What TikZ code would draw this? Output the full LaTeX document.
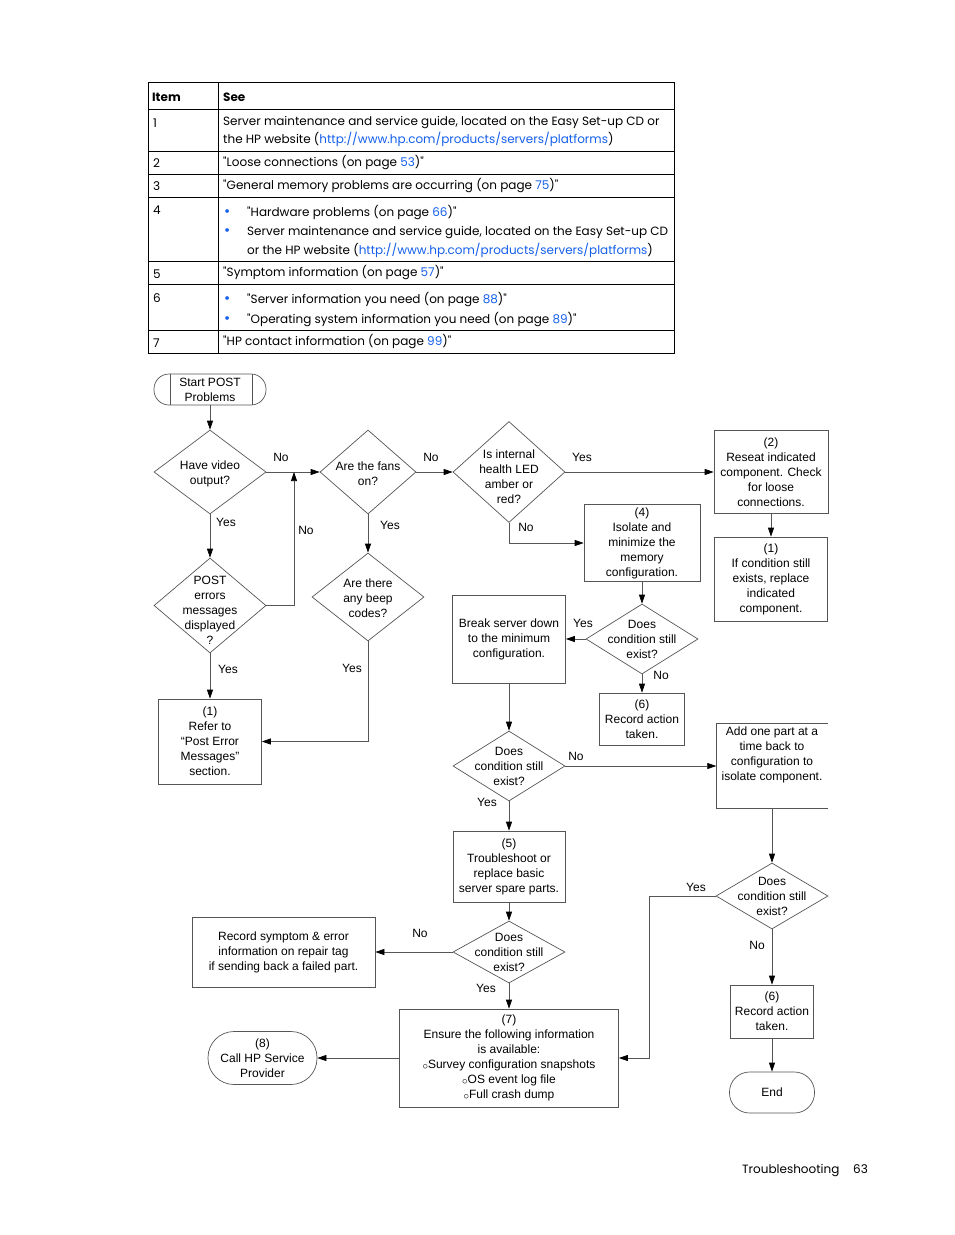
\documentclass[tikz,border=0pt]{standalone}
\usepackage{fontspec}
\setmainfont{Liberation Sans}
\newfontfamily\tabfont{Poppins}
\usetikzlibrary{arrows.meta,shapes.geometric}
\definecolor{hplink}{RGB}{20,95,235}
\definecolor{hpline}{RGB}{85,85,85}
\newcommand{\sbul}{\raisebox{-1pt}{\fontsize{11}{11}\selectfont$\circ$}}

\begin{document}
\begin{tikzpicture}[x=1pt,y=-1pt,>={Triangle[length=9pt,width=6pt,color=black]},
  fc/.style={font=\fontsize{12}{15}\selectfont,align=center,inner sep=0pt},
  box/.style={fc,draw=hpline,line width=.7pt,rectangle},
  term/.style={box,rounded corners=#1},
  dec/.style={draw=hpline,line width=.7pt,diamond,inner sep=0pt},
  conn/.style={->,draw=hpline,line width=.7pt},
  tb/.style={font=\tabfont\fontsize{12}{18}\selectfont,anchor=base west,inner sep=0pt},
  dot/.style={tb,text=hplink,font=\tabfont\fontsize{15}{18}\selectfont}]
   \useasboundingbox (0,0) rectangle (954,1235);
   \draw[line width=1pt] (148,82) rectangle (674,353);
   \draw[line width=1pt] (218,82) -- (218,353);
   \draw[line width=.8pt] (148,109) -- (674,109);
   \draw[line width=.8pt] (148,151) -- (674,151);
   \draw[line width=.8pt] (148,174) -- (674,174);
   \draw[line width=.8pt] (148,197) -- (674,197);
   \draw[line width=.8pt] (148,261) -- (674,261);
   \draw[line width=.8pt] (148,284) -- (674,284);
   \draw[line width=.8pt] (148,330) -- (674,330);
   \node[tb] (hi) at (152,101) {\bfseries Item};
   \node[tb] (hs) at (223,101) {\bfseries See};
   \node[tb] (i1) at (153,127) {1};
   \node[tb] (i2) at (153,167) {2};
   \node[tb] (i3) at (153,190) {3};
   \node[tb] (i4) at (153,214) {4};
   \node[tb] (i5) at (153,278) {5};
   \node[tb] (i6) at (153,302) {6};
   \node[tb] (i7) at (153,347) {7};
   \node[tb] (r1a) at (223,125) {Server maintenance and service guide, located on the Easy Set-up CD or};
   \node[tb] (r1b) at (223,143) {the HP website (\textcolor{hplink}{http://www.hp.com/products/servers/platforms})};
   \node[tb] (r2) at (223,166) {"Loose connections (on page \textcolor{hplink}{53})"};
   \node[tb] (r3) at (223,189) {"General memory problems are occurring (on page \textcolor{hplink}{75})"};
   \node[dot] (u4a) at (224,216) {•};
   \node[dot] (u4b) at (224,235) {•};
   \node[tb] (r4a) at (247,216) {"Hardware problems (on page \textcolor{hplink}{66})"};
   \node[tb] (r4b) at (247,235) {Server maintenance and service guide, located on the Easy Set-up CD};
   \node[tb] (r4c) at (247,254) {or the HP website (\textcolor{hplink}{http://www.hp.com/products/servers/platforms})};
   \node[tb] (r5) at (223,276) {"Symptom information (on page \textcolor{hplink}{57})"};
   \node[dot] (u6a) at (224,303) {•};
   \node[dot] (u6b) at (224,323) {•};
   \node[tb] (r6a) at (247,303) {"Server information you need (on page \textcolor{hplink}{88})"};
   \node[tb] (r6b) at (247,323) {"Operating system information you need (on page \textcolor{hplink}{89})"};
   \node[tb] (r7) at (223,345) {"HP contact information (on page \textcolor{hplink}{99})"};

   \node[term=15pt,minimum width=112pt,minimum height=31pt] (s) at (210,389.5) {Start POST\\Problems};
   \draw[hpline,line width=.7pt] (s.center) ++(-40,-15.5) -- ++(0,31);
   \draw[hpline,line width=.7pt] (s.center) ++(42,-15.5) -- ++(0,31);
   \node[dec,minimum width=112pt,minimum height=84pt,label={[fc,name=d1t,yshift=-2pt]center:{Have video\\output?}}] (d1) at (210,472) {};
   \node[dec,minimum width=112pt,minimum height=95pt,label={[fc,name=d2t,yshift=-5pt]center:{POST\\errors\\messages\\displayed\\?}}] (d2) at (210,605.5) {};
   \node[dec,minimum width=96pt,minimum height=84pt,label={[fc,name=d3t,yshift=-2pt]center:{Are the fans\\on?}}] (d3) at (368,472) {};
   \node[dec,minimum width=112pt,minimum height=88pt,label={[fc,name=d4t,yshift=-1pt]center:{Are there\\any beep\\codes?}}] (d4) at (368,597) {};
   \node[dec,minimum width=112pt,minimum height=101pt,label={[fc,name=d5t,yshift=-5pt]center:{Is internal\\health LED\\amber or\\red?}}] (d5) at (509,472) {};
   \node[box,minimum width=103pt,minimum height=85pt] (b1) at (210,741.5) {(1)\\Refer to\\“Post Error\\Messages”\\section.};
   \node[box,minimum width=114pt,minimum height=83pt] (b2) at (771,472) {(2)\\Reseat indicated\\component. Check\\for loose\\connections.};
   \node[box,minimum width=113pt,minimum height=84pt] (b3) at (771,579) {(1)\\If condition still\\exists, replace\\indicated\\component.};
   \node[box,minimum width=116pt,minimum height=77pt] (b4) at (642,543) {(4)\\Isolate and\\minimize the\\memory\\configuration.};
   \node[dec,minimum width=112pt,minimum height=70pt,label={[fc,name=d6t]center:{Does\\condition still\\exist?}}] (d6) at (642,639) {};
   \node[box,minimum width=113pt,minimum height=88pt] (b5) at (509,639) {Break server down\\to the minimum\\configuration.};
   \node[box,minimum width=85pt,minimum height=52pt] (b6) at (642,719) {(6)\\Record action\\taken.};
   \node[dec,minimum width=112pt,minimum height=70pt,label={[fc,name=d7t]center:{Does\\condition still\\exist?}}] (d7) at (509,766) {};
   \node[fc,minimum width=111pt,minimum height=84pt] (b7) at (772,766) {};
   \node[fc] (b7t) at (772,754.5) {Add one part at a\\time back to\\configuration to\\isolate component.};
   \draw[hpline,line width=.7pt] (b7.north east) -- (b7.north west) -- (b7.south west) -- (b7.south east);
   \node[box,minimum width=112pt,minimum height=71pt] (b8) at (509,866.5) {(5)\\Troubleshoot or\\replace basic\\server spare parts.};
   \node[dec,minimum width=112pt,minimum height=66pt,label={[fc,name=d8t]center:{Does\\condition still\\exist?}}] (d8) at (772,896) {};
   \node[dec,minimum width=112pt,minimum height=62pt,label={[fc,name=d9t]center:{Does\\condition still\\exist?}}] (d9) at (509,952) {};
   \node[box,minimum width=183pt,minimum height=70pt] (b9) at (283.5,952) {Record symptom \& error\\information on repair tag\\if sending back a failed part.};
   \node[box,minimum width=219pt,minimum height=98pt] (b10) at (509,1058) {(7)\\Ensure the following information\\is available:\\\sbul Survey configuration snapshots\\\sbul OS event log file\\\sbul Full crash dump};
   \node[box,minimum width=83pt,minimum height=53pt] (b11) at (772,1011.5) {(6)\\Record action\\taken.};
   \node[term=26pt,minimum width=109pt,minimum height=53pt] (t8) at (262.5,1058) {(8)\\Call HP Service\\Provider};
   \node[term=20pt,minimum width=85pt,minimum height=41pt] (e) at (772,1092.5) {End};
   \coordinate (j1) at (294,472);
   \coordinate (j2) at (649,1058);

   \draw[conn] (s) -- (d1);
   \draw[conn] (d1) -- (d2);
   \draw[conn] (d1.east) -- (d3.west);
   \draw[conn] (d2.east) -| (j1);
   \draw[conn] (d2) -- (b1);
   \draw[conn] (d3) -- (d4);
   \draw[conn] (d4.south) |- (b1.east);
   \draw[conn] (d3.east) -- (d5.west);
   \draw[conn] (d5.east) -- (b2.west);
   \draw[conn] (d5.south) |- (b4.west);
   \draw[conn] (b2) -- (b3);
   \draw[conn] (b4) -- (d6);
   \draw[conn] (d6.west) -- (b5.east);
   \draw[conn] (d6) -- (b6);
   \draw[conn] (b5) -- (d7);
   \draw[conn] (d7.east) -- (b7.west);
   \draw[conn] (d7) -- (b8);
   \draw[conn] (b7) -- (d8);
   \draw[conn] (d8.west) -| (j2) -- (b10.east);
   \draw[conn] (d8) -- (b11);
   \draw[conn] (b11) -- (e);
   \draw[conn] (b8) -- (d9);
   \draw[conn] (d9.west) -- (b9.east);
   \draw[conn] (d9) -- (b10);
   \draw[conn] (b10.west) -- (t8.east);

   \node[fc] (n1) at (281,457) {No};
   \node[fc] (n2) at (306,530) {No};
   \node[fc] (y1) at (226,522) {Yes};
   \node[fc] (y2) at (228,669) {Yes};
   \node[fc] (n3) at (431,457) {No};
   \node[fc] (y3) at (390,525) {Yes};
   \node[fc] (y4) at (352,668) {Yes};
   \node[fc] (y5) at (582,457) {Yes};
   \node[fc] (n4) at (526,527) {No};
   \node[fc] (y6) at (583,623) {Yes};
   \node[fc] (n5) at (661,675) {No};
   \node[fc] (n6) at (576,756) {No};
   \node[fc] (y7) at (487,802) {Yes};
   \node[fc] (y8) at (696,887) {Yes};
   \node[fc] (n7) at (757,945) {No};
   \node[fc] (n8) at (420,933) {No};
   \node[fc] (y9) at (486,988) {Yes};

   \node[tb] (ft) at (742,1173) {Troubleshooting};
   \node[tb] (fp) at (853,1173) {63};
\end{tikzpicture}
\end{document}
